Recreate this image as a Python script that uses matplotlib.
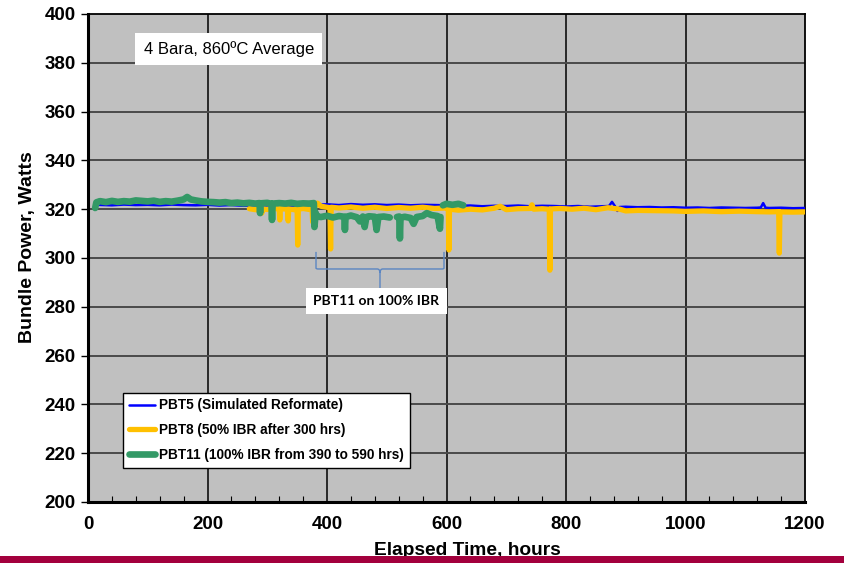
import numpy as np
import matplotlib
matplotlib.use("Agg")
import matplotlib.pyplot as plt
from matplotlib.path import Path
from matplotlib.patches import PathPatch, Rectangle
from matplotlib.ticker import MultipleLocator

plt.rcParams['font.family'] = ['Liberation Sans', 'DejaVu Sans']

# ---- data: bundle power (W) vs elapsed time (h) ----
pbt5_t = [15, 40, 60, 80, 100, 120, 140, 160, 180, 200, 220, 240, 260, 280, 300,
          320, 340, 360, 380, 400, 420, 440, 460, 480, 500, 520, 540, 560, 580, 600,
          620, 640, 660, 680, 700, 720, 740, 760, 780, 800, 820, 840, 860, 872, 877,
          882, 886, 890, 900, 920, 940, 960, 980, 1000, 1020, 1040, 1060, 1080, 1100,
          1120, 1126, 1130, 1134, 1140, 1160, 1180, 1200]
pbt5_w = [321.8, 321.6, 321.9, 321.7, 321.8, 321.6, 321.9, 321.7, 321.6, 321.8, 321.5, 321.7, 321.4, 321.6, 321.5,
          321.7, 321.4, 321.6, 321.8, 322.0, 321.7, 322.1, 321.8, 322.0, 321.7, 321.9, 321.6, 321.8, 321.7, 321.6,
          321.4, 321.5, 321.2, 321.4, 321.3, 321.5, 321.2, 321.4, 321.3, 321.1, 321.3, 321.0, 321.2, 321.3, 323.0,
          321.2, 319.3, 320.9, 321.0, 320.8, 320.9, 320.7, 320.8, 320.6, 320.7, 320.5, 320.7, 320.6, 320.5,
          320.6, 320.7, 322.5, 320.6, 320.5, 320.6, 320.4, 320.5]

pbt8_t = [270, 280, 290, 291, 292, 300, 310, 320, 321, 322, 334, 335, 336, 345, 350,
          351, 352, 360, 370, 375, 376, 377, 380, 384, 390, 400, 405, 406, 407, 420,
          440, 460, 480, 500, 520, 540, 560, 580, 600, 603, 604, 605, 620, 640, 660,
          680, 690, 700, 720, 740, 743, 746, 760, 772, 773, 774, 790, 810, 830, 850,
          870, 890, 900, 920, 950, 980, 1000, 1030, 1060, 1090, 1120, 1140, 1156, 1157, 1158,
          1180, 1200]
pbt8_w = [320.2, 319.8, 320.3, 318.4, 320.1, 319.9, 320.4, 320.0, 315.6, 320.2, 320.0, 315.2, 320.1, 319.8, 320.2,
          305.3, 320.0, 320.3, 319.9, 320.1, 314.8, 320.2, 321.0, 322.5, 321.2, 320.8, 320.6, 303.7, 320.8, 320.5,
          320.9, 320.4, 320.8, 320.3, 320.7, 320.4, 320.8, 320.3, 320.5, 320.2, 303.3, 320.0, 319.6, 320.0, 319.7,
          320.4, 321.2, 319.8, 320.2, 320.3, 321.8, 320.0, 320.2, 320.0, 295.0, 320.1, 320.3, 320.0, 320.4, 319.8,
          320.6, 320.0, 319.3, 319.5, 319.4, 319.3, 319.1, 319.3, 319.0, 319.2, 319.0, 318.9, 319.0, 302.0, 318.9,
          318.8, 318.9]

# NaN entries separate the three stretches of the PBT11 record
pbt11_t = [12, 14, 20, 30, 40, 50, 60, 70, 80, 90, 100, 110, 120, 130, 140,
           150, 160, 166, 172, 180, 190, 200, 210, 220, 230, 240, 250, 260, 270, 280,
           287, 288, 289, 300, 307, 308, 309, 320, 330, 340, 350, 360, 370, 378, 379,
           381, 383, 390, 400, 410, 420, 429, 430, 431, 440, 450, 455, 460, 463, 466,
           470, 480, 483, 486, 495, 505, 511, 517, 521, 522, 523, 530, 540, 545, 550,
           560, 567, 575, 585, 589, 590, 592, 594, 600, 610, 620, 628]
pbt11_w = [320.5, 322.8, 323.3, 322.9, 323.4, 323.0, 323.3, 323.1, 323.6, 323.4, 323.2, 323.5, 323.0, 323.3, 323.1,
           323.5, 324.0, 325.0, 324.0, 323.6, 323.2, 323.0, 322.9, 322.7, 322.9, 322.5, 322.7, 322.4, 322.6, 322.3,
           322.5, 318.4, 322.4, 322.6, 322.2, 315.6, 322.3, 322.5, 322.3, 322.6, 322.2, 322.4, 322.3, 322.5, 312.7,
           318.5, 317.0, 316.8, 317.3, 316.6, 317.2, 316.9, 311.5, 316.8, 317.4, 316.7, 315.0, 317.0, 312.7, 316.8,
           317.1, 316.9, 311.5, 316.8, 317.0, 316.6, np.nan, 316.8, 317.0, 308.0, 316.5, 316.9, 316.4, 314.0, 316.8,
           317.2, 318.4, 317.6, 317.2, 312.0, 316.8, np.nan, 321.6, 322.2, 321.8, 322.2, 321.6]

series = [
    ("PBT5 (Simulated Reformate)", pbt5_t, pbt5_w, "#0000FF", 1.8),
    ("PBT8 (50% IBR after 300 hrs)", pbt8_t, pbt8_w, "#FFC000", 3.8),
    ("PBT11 (100% IBR from 390 to 590 hrs)", pbt11_t, pbt11_w, "#339966", 4.8),
]

fig = plt.figure(figsize=(8.44, 5.63), dpi=100)
ax = fig.add_axes([88 / 844, 61 / 563, 717 / 844, 488 / 563])
ax.set_facecolor("#C0C0C0")

for label, t, w, color, lw in series:
    ax.plot(t, w, color=color, lw=lw, label=label, solid_joinstyle="round",
            solid_capstyle="round", zorder=3)

ax.set_xlim(0, 1200)
ax.set_ylim(200, 400)
ax.xaxis.set_major_locator(MultipleLocator(200))
ax.xaxis.set_minor_locator(MultipleLocator(40))
ax.yaxis.set_major_locator(MultipleLocator(20))

for x in range(200, 1200, 200):
    ax.axvline(x, color="black", lw=1.1, zorder=1)
for y in range(220, 400, 20):
    ax.axhline(y, color="#4a4a4a", lw=1.4, zorder=1)

ax.tick_params(axis="y", which="major", direction="out", length=5, width=1,
               pad=4, labelsize=13.5)
ax.tick_params(axis="x", which="major", direction="in", length=0, pad=10, labelsize=13.5)
ax.tick_params(axis="x", which="minor", direction="in", length=4, width=0.8)
for lab in ax.get_xticklabels() + ax.get_yticklabels():
    lab.set_fontweight("bold")

ax.spines["left"].set_linewidth(2.2)
ax.spines["bottom"].set_linewidth(2.2)
ax.spines["top"].set_linewidth(1.3)
ax.spines["right"].set_linewidth(1.3)

ax.set_xlabel("Elapsed Time, hours", fontsize=13.8, fontweight="bold")
ax.xaxis.set_label_coords(0.529, -0.081)
ax.set_ylabel("Bundle Power, Watts", fontsize=14, fontweight="bold")
ax.yaxis.set_label_coords(-0.072, 0.522)

# condition note
ax.add_patch(Rectangle((79, 379.1), 313, 13.1, facecolor="white", edgecolor="none", zorder=4))
ax.text(235.5, 385.7, "4 Bara, 860ºC Average", ha="center", va="center",
        fontsize=12, zorder=5)

# brace marking the PBT11 100% IBR period
brace = [
    (381.6, 302.5), (381.6, 295.8), (382.8, 295.5), (384.5, 295.5),
    (484.0, 295.5), (488.7, 295.5), (488.7, 294.0), (488.7, 287.7),
    (488.7, 294.0), (488.7, 295.5), (493.4, 295.5),
    (593.0, 295.5), (594.8, 295.5), (595.8, 295.8), (595.8, 302.5),
]
codes = [Path.MOVETO, Path.LINETO, Path.CURVE3, Path.CURVE3,
         Path.LINETO, Path.CURVE3, Path.CURVE3, Path.LINETO,
         Path.MOVETO, Path.CURVE3, Path.CURVE3,
         Path.LINETO, Path.CURVE3, Path.CURVE3, Path.LINETO]
ax.add_patch(PathPatch(Path(brace, codes), facecolor="none", edgecolor="#5B86C2",
                       lw=1.0, zorder=4))
ax.add_patch(Rectangle((365, 277.0), 235, 10.7, facecolor="white", edgecolor="none", zorder=4))
ax.text(482.5, 282.3, "PBT11 on 100% IBR", ha="center", va="center", fontsize=10,
        fontweight="bold", family=["Lato", "DejaVu Sans"], zorder=5)

leg = ax.legend(loc="lower left", bbox_to_anchor=(0.049, 0.07), borderaxespad=0,
                prop={"weight": "bold", "size": 9.8}, frameon=True,
                fancybox=False, edgecolor="black", framealpha=1, handlelength=1.9,
                handletextpad=0.35, labelspacing=0.8, borderpad=0.42)
leg.get_frame().set_linewidth(1.0)
leg.set_zorder(6)

# bottom accent bar
fig.add_artist(Rectangle((0, 0), 1, 7 / 563, transform=fig.transFigure,
                         facecolor="#A3003D", edgecolor="none"))

fig.savefig("out.png", dpi=100)
